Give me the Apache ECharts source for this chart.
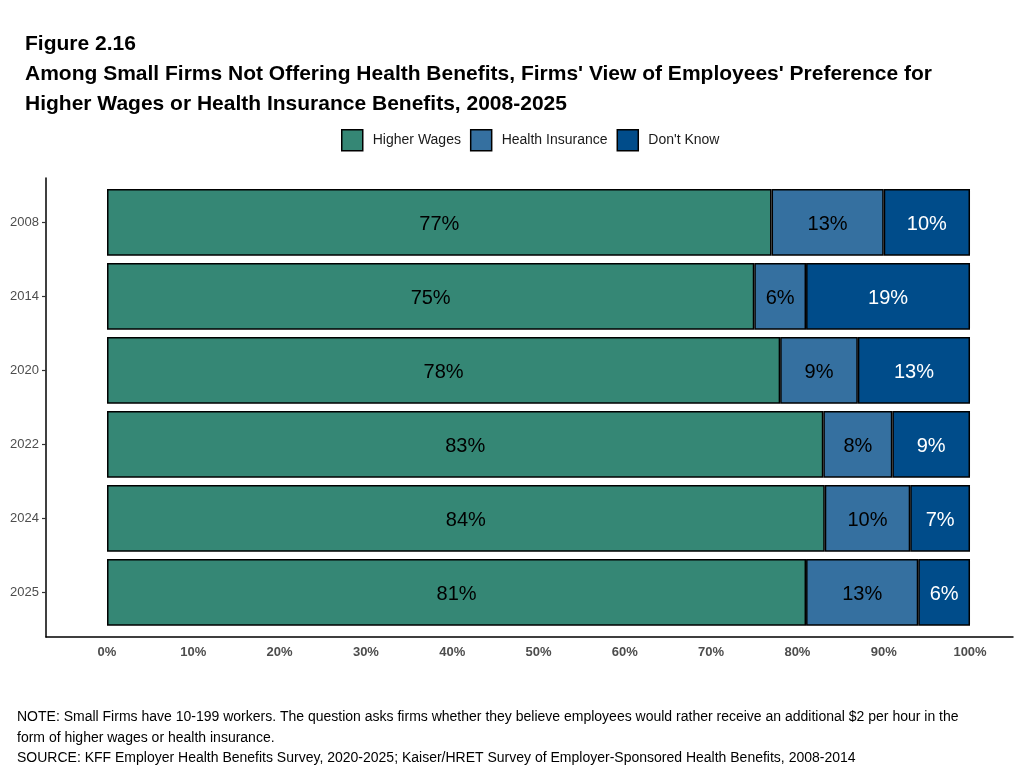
<!DOCTYPE html>
<html>
<head>
<meta charset="utf-8">
<script src="https://cdn.jsdelivr.net/npm/echarts@6/dist/echarts.min.js"></script>
<style>
html,body{margin:0;padding:0;background:#fff;}
#chart{width:1023px;height:770px;}
</style>
</head>
<body>
<div id="chart"></div>
<script>
const years = ['2008', '2014', '2020', '2022', '2024', '2025'];
const seriesNames = ['Higher Wages', 'Health Insurance', "Don't Know"];
const higherWages = [77, 75, 78, 83, 84, 81];
const healthInsurance = [13, 6, 9, 8, 10, 13];
const dontKnow = [10, 19, 13, 9, 7, 6];
const xTicks = [0, 10, 20, 30, 40, 50, 60, 70, 80, 90, 100];
const colors = ['#358775', '#3570A0', '#004C8A'];
const labelColors = ['#000000', '#000000', '#ffffff'];

const raw = [higherWages, healthInsurance, dontKnow];
const totals = years.map((_, i) => raw.reduce((s, arr) => s + arr[i], 0));
const FONT = '"Liberation Sans", Arial, sans-serif';

const chart = echarts.init(document.getElementById('chart'), null, {renderer: 'canvas'});
const xMin = -7.07, xMax = 104.98;

const series = raw.map((arr, k) => ({
  name: seriesNames[k],
  type: 'bar',
  stack: 'total',
  xAxisIndex: 0,
  yAxisIndex: 0,
  barWidth: '90%',
  itemStyle: {color: colors[k], borderColor: '#000', borderWidth: 1.5},
  label: {
    show: true,
    position: 'inside',
    offset: [0, 2],
    color: labelColors[k],
    fontFamily: FONT,
    fontSize: 20,
    formatter: p => arr[p.dataIndex] + '%'
  },
  emphasis: {disabled: true},
  data: arr.map((v, i) => v / totals[i] * 100)
}));

chart.setOption({
  animation: false,
  backgroundColor: '#fff',
  title: [
    {text: 'Figure 2.16', left: 25, top: 34, padding: 0, textStyle: {fontFamily: FONT, fontSize: 21, fontWeight: 'bold', color: '#000'}},
    {text: "Among Small Firms Not Offering Health Benefits, Firms' View of Employees' Preference for\nHigher Wages or Health Insurance Benefits, 2008-2025",
     left: 25, top: 59, padding: 0, textStyle: {fontFamily: FONT, fontSize: 21, fontWeight: 'bold', color: '#000', lineHeight: 30}},
    {text: 'NOTE: Small Firms have 10-199 workers. The question asks firms whether they believe employees would rather receive an additional $2 per hour in the\nform of higher wages or health insurance.\nSOURCE: KFF Employer Health Benefits Survey, 2020-2025; Kaiser/HRET Survey of Employer-Sponsored Health Benefits, 2008-2014',
     left: 17, top: 707, padding: 0, textStyle: {fontFamily: FONT, fontSize: 14, fontWeight: 'normal', color: '#000', lineHeight: 20.5}}
  ],
  legend: {
    data: seriesNames,
    left: 341,
    top: 129,
    padding: 0,
    itemWidth: 21,
    itemHeight: 21,
    itemGap: 9,
    icon: 'rect',
    itemStyle: {borderColor: '#000', borderWidth: 1.5},
    textStyle: {fontFamily: FONT, fontSize: 14, color: '#1a1a1a', padding: [0, 0, 0, 5]},
    selectedMode: false
  },
  grid: [
    {left: 46, right: 10, top: 185.4, height: 444, containLabel: false},
    {left: 46, right: 10, top: 178, height: 459, containLabel: false}
  ],
  xAxis: [
    {type: 'value', gridIndex: 0, min: xMin, max: xMax, show: false},
    {type: 'value', gridIndex: 1, min: xMin, max: xMax,
     axisLine: {show: true, onZero: false, lineStyle: {color: '#000', width: 1.5}},
     axisTick: {show: false},
     splitLine: {show: false},
     axisLabel: {customValues: xTicks, formatter: v => v + '%', margin: 9,
       fontFamily: FONT, fontSize: 13, fontWeight: 'bold', color: '#4d4d4d'}}
  ],
  yAxis: [
    {type: 'category', gridIndex: 0, data: years, inverse: true,
     axisLine: {show: false, onZero: false},
     axisTick: {show: true, alignWithLabel: true, length: 4, lineStyle: {color: '#333', width: 1.2}},
     axisLabel: {fontFamily: FONT, fontSize: 13, color: '#4d4d4d', margin: 7},
     splitLine: {show: false}},
    {type: 'value', gridIndex: 1, min: 0, max: 1,
     axisLine: {show: true, onZero: false, lineStyle: {color: '#000', width: 1.5}},
     axisTick: {show: false}, axisLabel: {show: false}, splitLine: {show: false}}
  ],
  series: series
});
</script>
</body>
</html>
